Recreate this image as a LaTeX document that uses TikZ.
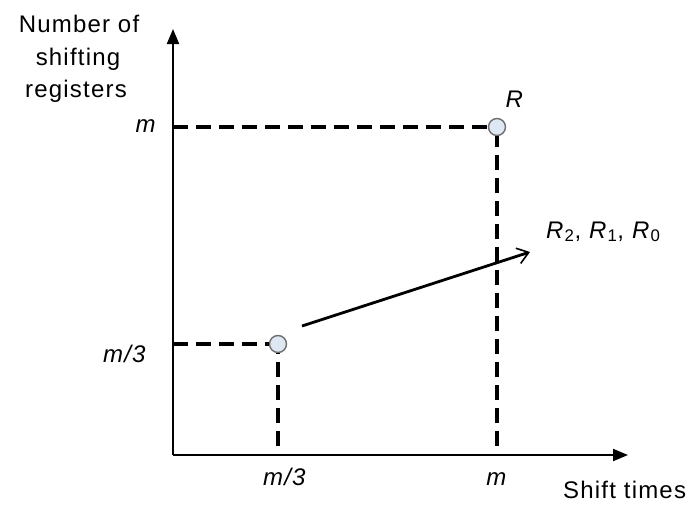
\documentclass[tikz,border=0pt]{standalone}
\usepackage{fontspec}
\setmainfont{Liberation Sans}[LetterSpace=5]
\usetikzlibrary{arrows.meta}
\definecolor{ptfill}{RGB}{222,231,244}
\definecolor{ptdraw}{RGB}{110,110,110}
\begin{document}
\begin{tikzpicture}[x=1pt,y=-1pt,
  axis/.style={line width=2pt,-{Triangle[length=15pt,width=12pt]}},
  dashline/.style={line width=3.2pt,dash pattern=on 15pt off 8pt},
  pt/.style={circle,draw=ptdraw,fill=ptfill,line width=1.4pt,minimum size=17pt,inner sep=0pt},
  lbl/.style={font=\fontsize{24}{28}\selectfont,inner sep=0pt},
  ar/.style={line width=2.8pt,-{Straight Barb[length=11pt,width=16pt,line width=1.6pt]}}]
\useasboundingbox (0,0) rectangle (698,506);
\coordinate (O) at (173,455);
\coordinate (ytop) at (173,29);
\coordinate (xend) at (628,455);
\coordinate (ym) at (173,127);
\coordinate (ym3) at (173,344);
\coordinate (xm) at (497,446);
\coordinate (xm3) at (278,446);
\draw[axis] (O) -- (ytop);
\draw[axis] (O) -- (xend);
\node[pt] (R) at (497,127) {};
\node[pt] (P) at (278,344) {};
\draw[dashline] (ym) -- (R);
\draw[dashline] (xm) -- (R);
\draw[dashline] (ym3) -- (P);
\draw[dashline] (xm3) -- (P);
\coordinate (as) at (302,326);
\coordinate (ae) at (530,252);
\draw[ar] (as) -- (ae);
\node[lbl,anchor=base] (ylab1) at (79,32) {Number of};
\node[lbl,anchor=base] (ylab2) at (78,65) {shifting};
\node[lbl,anchor=base] (ylab3) at (76,97) {registers};
\node[lbl,anchor=base east] (lm) at (157,132) {\textit{m}};
\node[lbl,anchor=base east] (lm3) at (147,362) {\textit{m/3}};
\node[lbl,anchor=base] (bm) at (497,485) {\textit{m}};
\node[lbl,anchor=base] (bm3) at (285,485) {\textit{m/3}};
\node[lbl,anchor=base west] (xlab) at (563,498) {Shift times};
\node[lbl,anchor=base] (lR) at (515,107) {\textit{R}};
\node[lbl,anchor=base west] (lRs) at (546,238) {\textit{R}\textsubscript{2}, \textit{R}\textsubscript{1}, \textit{R}\textsubscript{0}};
\end{tikzpicture}
\end{document}
